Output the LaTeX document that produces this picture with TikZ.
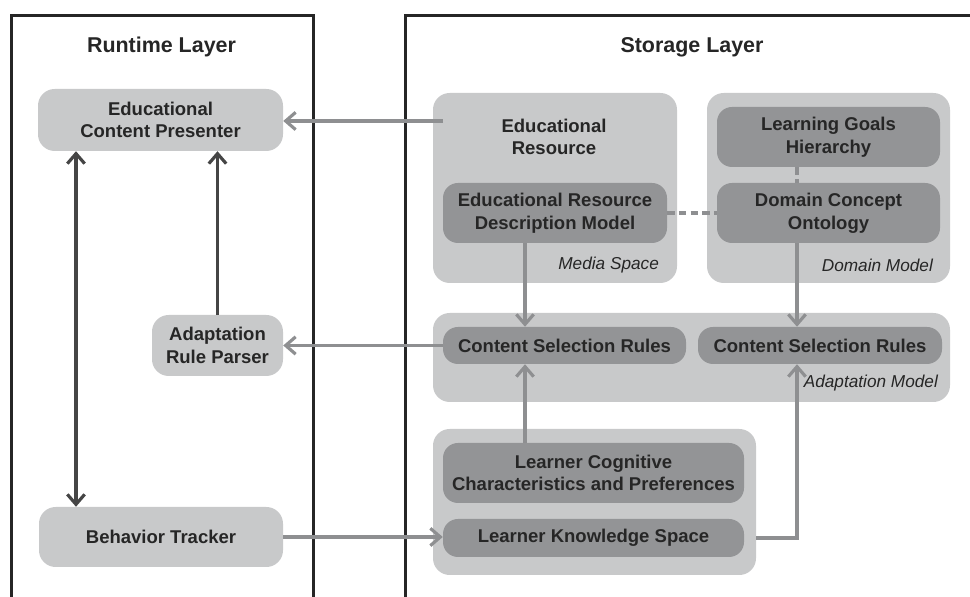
\documentclass[tikz,border=0pt]{standalone}
\usepackage{fontspec}
\setmainfont{Liberation Sans}
\usepackage{tikz}
\usetikzlibrary{shapes, calc, arrows.meta, positioning}

\definecolor{boxlight}{HTML}{C8C9CA}
\definecolor{boxdark}{HTML}{939496}
\definecolor{inkdark}{HTML}{262626}
\definecolor{linkgray}{HTML}{8E8F91}
\definecolor{linkdark}{HTML}{454545}

\begin{document}
\begin{tikzpicture}[>={Straight Barb[length=0.3cm,width=0.52cm]},font=\fontsize{15.8}{19.4}\selectfont\bfseries,text=inkdark]
	\tikzset{layer/.style={draw=inkdark, line width=0.09cm},
		outer/.style={fill=boxlight, rounded corners=0.5cm, inner sep=0pt},
		plain/.style={fill=boxlight, rounded corners=0.5cm, align=center, inner sep=0pt},
		inner/.style={fill=boxdark, rounded corners=0.45cm, align=center, inner sep=0pt},
		tag/.style={font=\fontsize{14.7}{17}\selectfont\itshape, anchor=east},
		darklink/.style={draw=linkdark, line width=0.095cm},
		graylink/.style={draw=linkgray, line width=0.095cm}}
	\useasboundingbox (0,0) rectangle (29.1,17.91);
	% layers
	\draw[layer] (0.33,-0.2) -- (0.33,17.43) -- (9.405,17.43) -- (9.405,-0.2);
	\draw[layer] (12.15,-0.2) -- (12.15,17.43) -- (29.3,17.43);
	\node[font=\fontsize{18.3}{22}\selectfont\bfseries] (rt) at (4.845,16.5) {Runtime Layer};
	\node[font=\fontsize{18.3}{22}\selectfont\bfseries] (st) at (20.76,16.5) {Storage Layer};
	% runtime
	\node[plain, minimum width=7.35cm, minimum height=1.86cm] (ecp) at (4.815,14.31) {Educational\\Content Presenter};
	\node[plain, minimum width=3.93cm, minimum height=1.83cm] (arp) at (6.525,7.545) {Adaptation\\Rule Parser};
	\node[plain, minimum width=7.32cm, minimum height=1.8cm] (bt) at (4.83,1.8) {Behavior Tracker};
	% storage
	\node[outer, minimum width=7.32cm, minimum height=5.7cm] (media) at (16.65,12.27) {};
	\node[outer, minimum width=7.29cm, minimum height=5.7cm] (domain) at (24.855,12.27) {};
	\node[outer, minimum width=15.51cm, minimum height=2.67cm] (adapt) at (20.745,7.185) {};
	\node[outer, minimum width=9.69cm, minimum height=4.38cm] (learner) at (17.835,2.85) {};
	\node[align=center] (er) at (16.62,13.8) {Educational\\Resource};
	\node[inner, minimum width=6.72cm, minimum height=1.8cm] (erdm) at (16.65,11.52) {Educational Resource\\Description Model};
	\node[tag] (ms) at (19.89,9.96) {Media Space};
	\node[inner, minimum width=6.69cm, minimum height=1.8cm] (lgh) at (24.855,13.8) {Learning Goals\\Hierarchy};
	\node[inner, minimum width=6.69cm, minimum height=1.8cm] (dco) at (24.855,11.52) {Domain Concept\\Ontology};
	\node[tag] (dm) at (28.11,9.96) {Domain Model};
	\node[inner, minimum width=7.29cm, minimum height=1.11cm] (csr1) at (16.935,7.545) {Content Selection Rules};
	\node[inner, minimum width=7.32cm, minimum height=1.11cm] (csr2) at (24.6,7.545) {Content Selection Rules};
	\node[tag] (am) at (28.26,6.42) {Adaptation Model};
	\node[inner, minimum width=9.03cm, minimum height=1.8cm] (lccp) at (17.805,3.72) {Learner Cognitive\\Characteristics and Preferences};
	\node[inner, minimum width=9.03cm, minimum height=1.14cm] (lks) at (17.805,1.77) {Learner Knowledge Space};
	% connectors
	\coordinate (lx) at (2.28,0);
	\coordinate (mx) at (15.75,0);
	\coordinate (dx) at (23.91,0);
	\coordinate (erout) at (13.29,14.28);
	\draw[darklink, <->] (ecp.south -| lx) -- (bt.north -| lx);
	\draw[darklink, ->] (arp.north) -- (arp.north |- ecp.south);
	\draw[graylink, ->] (erout) -- (erout -| ecp.east);
	\draw[graylink, ->] (csr1.west) -- (arp.east);
	\draw[graylink, ->] (bt.east) -- (bt.east -| lks.west);
	\draw[graylink, ->] (erdm.south -| mx) -- (csr1.north -| mx);
	\draw[graylink, ->] (dco.south -| dx) -- (csr2.north -| dx);
	\draw[graylink, ->] (lccp.north -| mx) -- (csr1.south -| mx);
	\draw[graylink, ->] (lks.east -| learner.east) -| (csr2.south -| dx);
	\draw[graylink, dash pattern=on 0.22cm off 0.13cm] (erdm.east) -- (dco.west);
	\draw[graylink, dash pattern=on 0.22cm off 0.13cm] (lgh.south -| dx) -- (dco.north -| dx);
\end{tikzpicture}
\end{document}
